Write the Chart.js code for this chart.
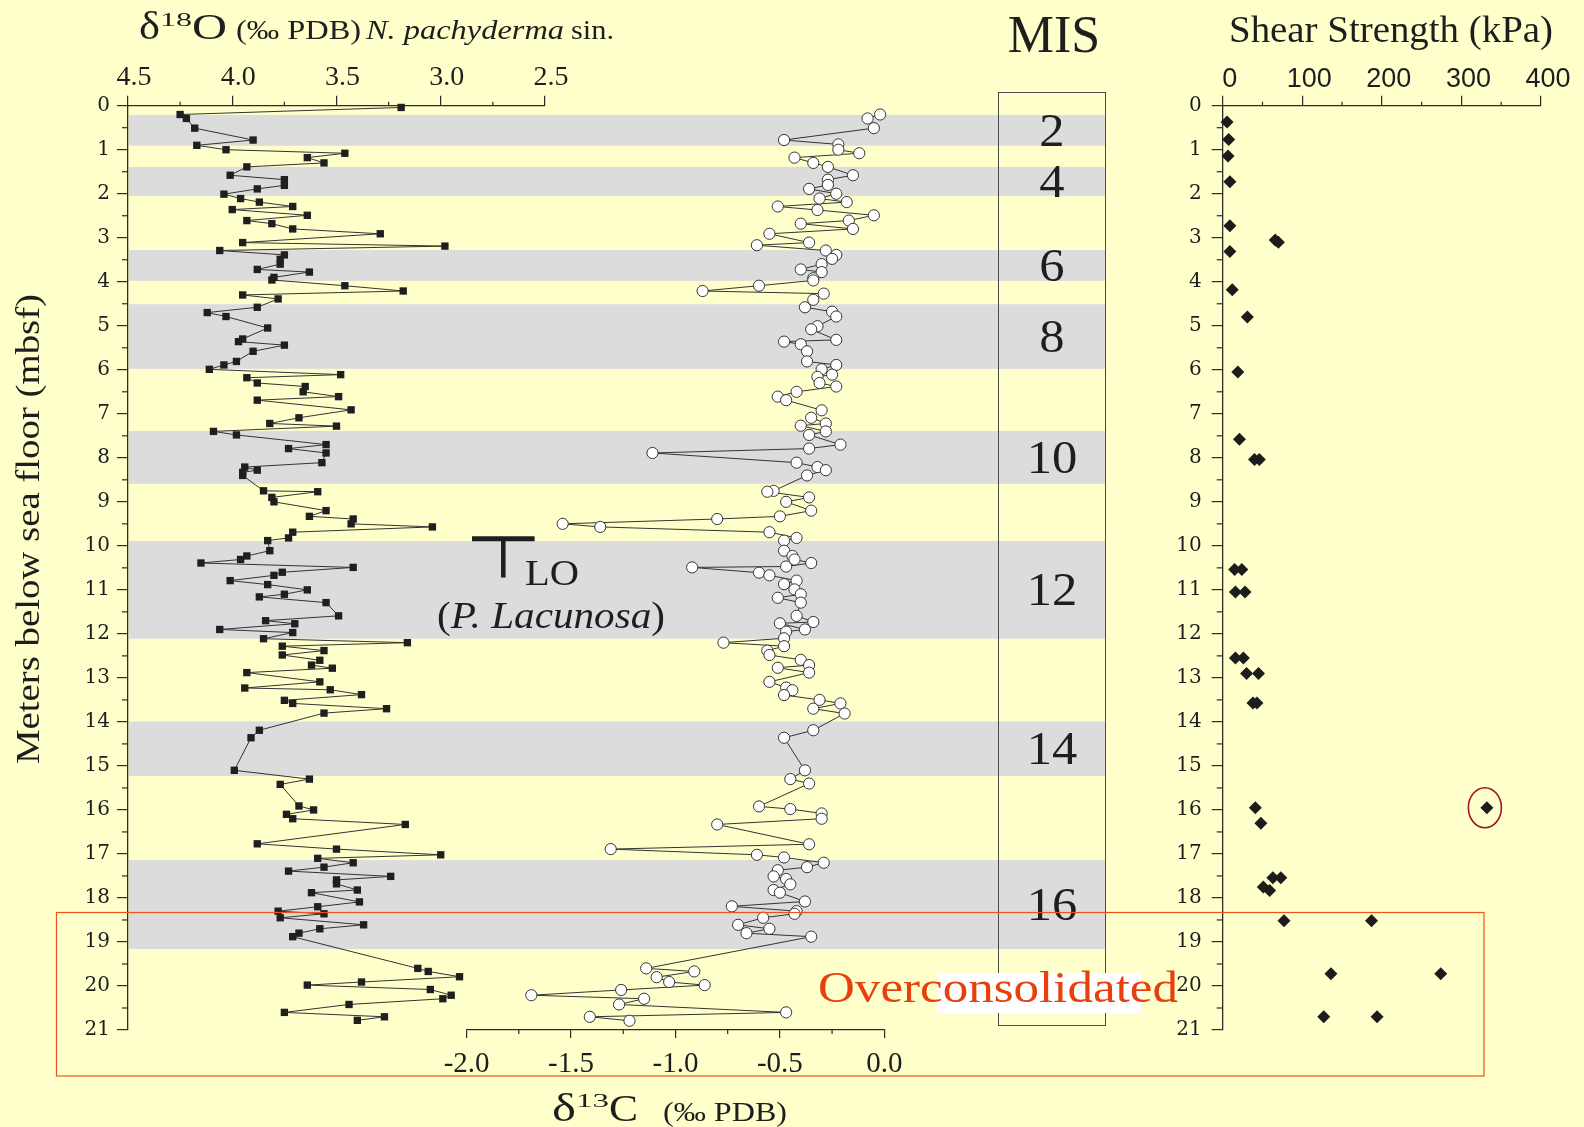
<!DOCTYPE html>
<html>
<head>
<meta charset="utf-8">
<title>Isotopes and shear strength</title>
<script src="https://cdn.jsdelivr.net/npm/chart.js@4.4.1/dist/chart.umd.min.js"></script>
<style>
  html, body { margin: 0; padding: 0; background: #ffffcc; }
  #page { position: relative; width: 1584px; height: 1127px; overflow: hidden; }
  #page canvas { position: absolute; left: 0; top: 0; }
</style>
</head>
<body>
<div id="page">
  <canvas id="o18" width="1584" height="1127"></canvas>
  <canvas id="c13" width="1584" height="1127"></canvas>
  <canvas id="shear" width="1584" height="1127"></canvas>
</div>
<script>
const serif = "'Liberation Serif', 'Times New Roman', serif";
const textColor = '#1e1e1e';
const axisColor = '#2b2b2b';
const lineColor = '#333333';

// sample depths (mbsf) and d18O of N. pachyderma sin. (permil PDB)
const depth18 = [
  0.04, 0.20, 0.29, 0.51, 0.78, 0.90, 1.00, 1.08, 1.18, 1.30,
  1.39, 1.58, 1.68, 1.81, 1.89, 2.01, 2.11, 2.19, 2.29, 2.36,
  2.49, 2.61, 2.68, 2.80, 2.91, 3.11, 3.19, 3.29, 3.39, 3.49,
  3.60, 3.72, 3.78, 3.90, 3.96, 4.09, 4.21, 4.30, 4.39, 4.58,
  4.70, 4.79, 5.05, 5.30, 5.36, 5.44, 5.58, 5.81, 5.89, 5.99,
  6.11, 6.18, 6.30, 6.38, 6.50, 6.61, 6.69, 6.91, 7.09, 7.22,
  7.28, 7.40, 7.48, 7.70, 7.79, 7.89, 8.11, 8.21, 8.28, 8.33,
  8.40, 8.75, 8.77, 8.90, 9.00, 9.20, 9.33, 9.39, 9.50, 9.57,
  9.69, 9.82, 9.88, 10.11, 10.23, 10.31, 10.39, 10.49, 10.60, 10.67,
  10.79, 10.88, 11.00, 11.10, 11.16, 11.29, 11.59, 11.70, 11.77, 11.90,
  11.97, 12.11, 12.20, 12.28, 12.38, 12.48, 12.60, 12.71, 12.78, 12.88,
  13.09, 13.23, 13.27, 13.38, 13.51, 13.58, 13.70, 13.80, 14.19, 14.36,
  15.10, 15.30, 15.42, 15.91, 16.00, 16.10, 16.20, 16.33, 16.77, 16.89,
  17.02, 17.10, 17.20, 17.30, 17.39, 17.51, 17.59, 17.68, 17.82, 17.88,
  18.09, 18.20, 18.30, 18.36, 18.45, 18.61, 18.70, 18.80, 18.88, 19.60,
  19.67, 19.79, 19.91, 19.98, 20.08, 20.21, 20.29, 20.42, 20.60, 20.70, 20.78
];
const d18O = [
  3.19, 4.25, 4.22, 4.18, 3.90, 4.17, 4.03, 3.46, 3.64, 3.56,
  3.93, 4.01, 3.75, 3.75, 3.88, 4.04, 3.96, 3.87, 3.71, 4.00,
  3.64, 3.93, 3.81, 3.71, 3.29, 3.95, 2.98, 4.06, 3.75, 3.77,
  3.77, 3.88, 3.63, 3.80, 3.81, 3.46, 3.18, 3.95, 3.78, 3.88,
  4.12, 4.03, 3.83, 3.95, 3.97, 3.75, 3.90, 3.98, 4.04, 4.11,
  3.48, 3.93, 3.88, 3.65, 3.66, 3.49, 3.88, 3.43, 3.68, 3.82,
  3.50, 4.09, 3.98, 3.55, 3.73, 3.55, 3.57, 3.94, 3.88, 3.95,
  3.95, 3.85, 3.59, 3.81, 3.80, 3.55, 3.63, 3.42, 3.43, 3.04,
  3.71, 3.73, 3.83, 3.82, 3.93, 3.96, 4.15, 3.42, 3.76, 3.80,
  4.01, 3.83, 3.64, 3.75, 3.87, 3.55, 3.49, 3.84, 3.70, 4.06,
  3.71, 3.85, 3.16, 3.76, 3.56, 3.76, 3.58, 3.62, 3.52, 3.93,
  3.58, 3.94, 3.53, 3.38, 3.75, 3.71, 3.26, 3.56, 3.87, 3.91,
  3.99, 3.63, 3.77, 3.68, 3.61, 3.74, 3.71, 3.17, 3.88, 3.50,
  3.00, 3.59, 3.42, 3.56, 3.73, 3.24, 3.50, 3.50, 3.40, 3.62,
  3.39, 3.59, 3.78, 3.56, 3.77, 3.37, 3.58, 3.68, 3.71, 3.11,
  3.06, 2.91, 3.38, 3.64, 3.05, 2.95, 2.99, 3.44, 3.75, 3.27, 3.40
];

// sample depths (mbsf) and d13C (permil PDB)
const depth13 = [
  0.20, 0.29, 0.51, 0.78, 0.88, 1.00, 1.08, 1.18, 1.30, 1.39,
  1.58, 1.68, 1.80, 1.89, 2.00, 2.11, 2.19, 2.29, 2.37, 2.49,
  2.61, 2.68, 2.80, 2.91, 3.11, 3.17, 3.29, 3.39, 3.48, 3.60,
  3.72, 3.78, 3.92, 3.97, 4.09, 4.21, 4.27, 4.41, 4.58, 4.68,
  4.79, 5.01, 5.08, 5.32, 5.36, 5.42, 5.58, 5.81, 5.89, 5.99,
  6.11, 6.16, 6.30, 6.38, 6.50, 6.61, 6.69, 6.92, 7.09, 7.22,
  7.27, 7.40, 7.48, 7.70, 7.79, 7.89, 8.11, 8.21, 8.28, 8.40,
  8.75, 8.77, 8.90, 9.00, 9.20, 9.33, 9.39, 9.50, 9.57, 9.69,
  9.82, 9.88, 10.11, 10.23, 10.31, 10.39, 10.47, 10.49, 10.61, 10.67,
  10.79, 10.87, 10.99, 11.10, 11.18, 11.29, 11.59, 11.73, 11.76, 11.90,
  11.95, 12.10, 12.20, 12.28, 12.38, 12.48, 12.59, 12.71, 12.77, 12.88,
  13.09, 13.22, 13.28, 13.39, 13.50, 13.58, 13.70, 13.81, 14.19, 14.36,
  15.10, 15.30, 15.40, 15.92, 15.98, 16.08, 16.20, 16.33, 16.78, 16.89,
  17.02, 17.08, 17.20, 17.30, 17.37, 17.51, 17.57, 17.69, 17.82, 17.88,
  18.08, 18.19, 18.30, 18.36, 18.45, 18.61, 18.70, 18.80, 18.88, 19.60,
  19.67, 19.80, 19.91, 19.98, 20.09, 20.21, 20.29, 20.42, 20.60, 20.70, 20.79
];
const d13C = [
  -0.02, -0.08, -0.05, -0.48, -0.22, -0.22, -0.12, -0.43, -0.34, -0.27,
  -0.15, -0.27, -0.27, -0.36, -0.23, -0.31, -0.18, -0.51, -0.32, -0.05,
  -0.17, -0.40, -0.15, -0.55, -0.36, -0.61, -0.28, -0.23, -0.25, -0.30,
  -0.40, -0.30, -0.34, -0.34, -0.60, -0.87, -0.29, -0.34, -0.38, -0.25,
  -0.23, -0.32, -0.35, -0.23, -0.48, -0.40, -0.37, -0.37, -0.23, -0.30,
  -0.25, -0.32, -0.31, -0.23, -0.42, -0.51, -0.47, -0.30, -0.35, -0.28,
  -0.40, -0.28, -0.36, -0.21, -0.36, -1.11, -0.42, -0.32, -0.28, -0.37,
  -0.53, -0.56, -0.36, -0.47, -0.35, -0.50, -0.80, -1.54, -1.36, -0.55,
  -0.42, -0.48, -0.48, -0.44, -0.43, -0.35, -0.47, -0.92, -0.60, -0.55,
  -0.42, -0.48, -0.43, -0.40, -0.51, -0.40, -0.42, -0.34, -0.50, -0.38,
  -0.47, -0.48, -0.77, -0.48, -0.56, -0.55, -0.40, -0.36, -0.51, -0.36,
  -0.55, -0.47, -0.44, -0.48, -0.31, -0.21, -0.34, -0.19, -0.34, -0.48,
  -0.38, -0.45, -0.36, -0.60, -0.45, -0.30, -0.30, -0.80, -0.36, -1.31,
  -0.61, -0.48, -0.29, -0.37, -0.51, -0.53, -0.47, -0.45, -0.53, -0.50,
  -0.38, -0.73, -0.42, -0.43, -0.58, -0.70, -0.55, -0.66, -0.35, -1.14,
  -0.91, -1.09, -1.03, -0.86, -1.26, -1.69, -1.15, -1.27, -0.47, -1.41, -1.22
];

// shear strength measurements
const shearDepth = [
  0.37, 0.77, 1.14, 1.73, 2.73, 3.05, 3.10, 3.31, 4.18, 4.80,
  6.05, 7.58, 8.04, 8.04, 10.54, 10.54, 11.05, 11.05, 12.55, 12.55,
  12.90, 12.90, 13.57, 13.57, 15.95, 16.30, 17.54, 17.54, 17.75, 17.83,
  18.52, 18.52, 19.72, 19.72, 20.70, 20.70, 15.95
];
const shearKPa = [
  5.5, 7.5, 6.7, 9, 9, 66, 70, 9, 12, 31,
  19, 21, 40, 46, 15, 24, 16, 28, 16, 26,
  30, 45, 38, 43, 41, 48, 63, 73, 51, 59,
  77, 187, 136, 274, 127, 194, 332
];

// marine isotope stages (glacial bands)
const misStage = ['2', '4', '6', '8', '10', '12', '14', '16'];
const bandTop = [0.21, 1.39, 3.28, 4.51, 7.39, 9.89, 13.99, 17.14];
const bandBottom = [0.91, 2.05, 3.98, 5.98, 8.59, 12.11, 15.23, 19.16];

// tick labels
const depthTicks = [0, 1, 2, 3, 4, 5, 6, 7, 8, 9, 10, 11, 12, 13, 14, 15, 16, 17, 18, 19, 20, 21];
const o18Ticks = [4.5, 4.0, 3.5, 3.0, 2.5];
const c13Ticks = [-2.0, -1.5, -1.0, -0.5, 0.0];
const shearTicks = [0, 100, 200, 300, 400];

// last occurrence of P. lacunosa: [top, bottom] depth, [left, right, stem] d18O
const loDepth = [9.84, 10.72];
const loX = [2.85, 2.55, 2.70];


// ---- helpers ----
// axis boxes get a fixed size so the plot areas line up exactly
const fixSize = (size) => (scale) => {
    if (scale.isHorizontal()) scale.height = size;
    else scale.width = size;
};
const setTicks = (values) => (scale) => {
    scale.ticks = values.map(v => ({ value: v }));
};
const axisGrid = (len) => ({
    display: true, drawOnChartArea: false, drawTicks: true,
    tickLength: len, color: axisColor, lineWidth: 1.2,
});
const axisBorder = { display: true, color: axisColor, width: 1.3 };

const depthAxis = (pad, size) => ({
    type: 'linear', position: 'left', min: 0, max: 21, reverse: true,
    afterFit: fixSize(size),
    afterBuildTicks: setTicks(depthTicks),
    grid: axisGrid(11),
    border: axisBorder,
    ticks: {
        font: { family: 'DejaVu Serif', size: 20 }, color: textColor,
        padding: pad, autoSkip: false, callback: v => String(v),
    },
});

function fitText(ctx, str, x, y, font, o = {}) {
    ctx.save();
    ctx.font = font;
    ctx.textAlign = o.align || 'left';
    ctx.textBaseline = 'alphabetic';
    const natural = ctx.measureText(str).width;
    const sx = o.width ? o.width / natural : (o.sx || 1);
    ctx.translate(x, y);
    if (o.rotate) ctx.rotate(o.rotate);
    ctx.scale(sx, 1);
    ctx.fillText(str, 0, 0);
    ctx.restore();
}

// parts laid one after another, squeezed/stretched together to a width
function seqText(ctx, parts, x, y, width) {
    let total = 0;
    parts.forEach(p => { ctx.font = p.font; p.w = ctx.measureText(p.text).width; total += p.w; });
    const sx = width / total;
    let cx = x;
    parts.forEach(p => {
        fitText(ctx, p.text, cx, y, p.font, { sx });
        cx += p.w * sx;
    });
}

const base = {
    responsive: false,
    animation: false,
    devicePixelRatio: 1,
    events: [],
};
const quiet = { legend: { display: false }, tooltip: { enabled: false } };


// ---- plugins ----
const minorTicks = {
    id: 'minorTicks',
    afterDraw(chart, args, opts) {
        const { ctx, chartArea: a } = chart;
        ctx.save();
        ctx.strokeStyle = axisColor;
        ctx.lineWidth = 1.2;
        (opts.axes || []).forEach(ax => {
            const s = chart.scales[ax.id];
            const vals = s.ticks.map(t => t.value);
            for (let i = 0; i < vals.length - 1; i++) {
                const p = s.getPixelForValue((vals[i] + vals[i + 1]) / 2);
                ctx.beginPath();
                if (ax.side === 'top') { ctx.moveTo(p, a.top); ctx.lineTo(p, a.top - ax.len); }
                else if (ax.side === 'bottom') { ctx.moveTo(p, a.bottom); ctx.lineTo(p, a.bottom + ax.len); }
                else { ctx.moveTo(a.left, p); ctx.lineTo(a.left - ax.len, p); }
                ctx.stroke();
            }
        });
        ctx.restore();
    },
};

const bands = {
    id: 'bands',
    beforeDatasetsDraw(chart, args, opts) {
        const { ctx, chartArea: a, scales: { y } } = chart;
        ctx.save();
        ctx.fillStyle = '#dcdcdc';
        bandTop.forEach((t, i) => {
            const y1 = y.getPixelForValue(t);
            const y2 = y.getPixelForValue(bandBottom[i]);
            ctx.fillRect(a.left + 1, y1, opts.right - a.left - 1, y2 - y1);
        });
        ctx.restore();
    },
};

const loMarker = {
    id: 'loMarker',
    afterDatasetsDraw(chart) {
        const { ctx, scales: { x, y } } = chart;
        const yTop = y.getPixelForValue(loDepth[0]);
        const yBot = y.getPixelForValue(loDepth[1]);
        ctx.save();
        ctx.strokeStyle = '#1e1e1e';
        ctx.lineWidth = 5;
        ctx.beginPath();
        ctx.moveTo(x.getPixelForValue(loX[0]), yTop);
        ctx.lineTo(x.getPixelForValue(loX[1]), yTop);
        ctx.stroke();
        ctx.lineWidth = 4.5;
        ctx.beginPath();
        ctx.moveTo(x.getPixelForValue(loX[2]), yTop);
        ctx.lineTo(x.getPixelForValue(loX[2]), yBot);
        ctx.stroke();
        ctx.fillStyle = textColor;
        fitText(ctx, 'LO', 525, 585, '35px ' + serif, { width: 54 });
        seqText(ctx, [
            { text: '(', font: '38px ' + serif },
            { text: 'P. Lacunosa', font: 'italic 38px ' + serif },
            { text: ')', font: '38px ' + serif },
        ], 437, 628, 228);
        ctx.restore();
    },
};

const overlay = {
    id: 'overlay',
    afterDraw(chart) {
        const { ctx, scales: { x, y } } = chart;
        ctx.save();

        // MIS column
        ctx.strokeStyle = '#4a4a4a';
        ctx.lineWidth = 1;
        ctx.strokeRect(998.5, 92.5, 107, 933);
        ctx.fillStyle = textColor;
        fitText(ctx, 'MIS', 1054, 52, '52px ' + serif, { align: 'center' });
        misStage.forEach((s, i) => {
            const c = y.getPixelForValue((bandTop[i] + bandBottom[i]) / 2);
            fitText(ctx, s, 1052, c + 15.5, '46px ' + serif, { align: 'center', sx: 1.1 });
        });

        // overconsolidated interval
        ctx.strokeStyle = '#f0521c';
        ctx.lineWidth = 1.2;
        ctx.strokeRect(56.5, 912.5, 1427.5, 163.5);
        ctx.fillStyle = '#ffffff';
        ctx.fillRect(937, 973, 204, 40);
        ctx.fillStyle = '#e8400c';
        fitText(ctx, 'Overconsolidated', 818, 1002, '45px ' + serif, { width: 360 });

        // circled outlier
        const iMax = shearKPa.indexOf(Math.max(...shearKPa));
        ctx.strokeStyle = '#a0142c';
        ctx.lineWidth = 1.6;
        ctx.beginPath();
        ctx.ellipse(x.getPixelForValue(shearKPa[iMax]) - 2, y.getPixelForValue(shearDepth[iMax]), 16.5, 20, 0, 0, Math.PI * 2);
        ctx.stroke();

        // titles
        ctx.fillStyle = textColor;
        fitText(ctx, 'Shear Strength (kPa)', 1229, 42, '38px ' + serif, { width: 324 });

        [
            { text: 'δ', x: 139, w: 21, font: '40px ' + serif },
            { text: '18', x: 160, w: 32, font: '19px ' + serif, dy: -13 },
            { text: 'O', x: 192, w: 35, font: '35px ' + serif },
            { text: '(‰ PDB)', x: 236, w: 125, font: '27px ' + serif },
            { text: 'N. pachyderma', x: 366, w: 198, font: 'italic 27px ' + serif },
            { text: 'sin.', x: 571, w: 43, font: '27px ' + serif },
        ].forEach(p => fitText(ctx, p.text, p.x, 39 + (p.dy || 0), p.font, { width: p.w }));

        [
            { text: 'δ', x: 552, w: 24, font: '40px ' + serif },
            { text: '13', x: 576, w: 33, font: '19px ' + serif, dy: -14 },
            { text: 'C', x: 609, w: 29, font: '37px ' + serif },
            { text: '(‰ PDB)', x: 663, w: 124, font: '27px ' + serif },
        ].forEach(p => fitText(ctx, p.text, p.x, 1121 + (p.dy || 0), p.font, { width: p.w }));

        fitText(ctx, 'Meters below sea floor (mbsf)', 39, 529, '33px ' + serif,
            { align: 'center', rotate: -Math.PI / 2, width: 470 });

        ctx.restore();
    },
};


// ---- d18O panel (with depth axis and MIS bands) ----
new Chart(document.getElementById('o18'), {
    type: 'scatter',
    data: {
        datasets: [{
            data: depth18.map((d, i) => ({ x: d18O[i], y: d })),
            showLine: true,
            borderColor: lineColor,
            borderWidth: 1,
            pointStyle: 'rect',
            pointRadius: 5.2,
            pointBackgroundColor: '#1f1f1f',
            pointBorderColor: '#1f1f1f',
            pointBorderWidth: 0,
            clip: false,
        }],
    },
    options: {
        ...base,
        layout: { padding: { left: 0, top: 0, right: 1584 - 545, bottom: 1127 - 1030 } },
        plugins: {
            ...quiet,
            bands: { right: 1106 },
            minorTicks: { axes: [{ id: 'x', side: 'top', len: 4 }, { id: 'y', side: 'left', len: 6 }] },
        },
        scales: {
            x: {
                type: 'linear', position: 'top', min: 2.5, max: 4.5, reverse: true,
                afterFit: fixSize(105.7),
                afterBuildTicks: setTicks(o18Ticks),
                grid: axisGrid(10),
                border: axisBorder,
                ticks: {
                    font: { family: serif, size: 28 }, color: textColor,
                    padding: 1, labelOffset: 6, maxRotation: 0, autoSkip: false,
                    callback: v => v.toFixed(1),
                },
            },
            y: depthAxis(7, 128),
        },
    },
    plugins: [bands, minorTicks, loMarker],
});

// ---- d13C panel ----
new Chart(document.getElementById('c13'), {
    type: 'scatter',
    data: {
        datasets: [{
            data: depth13.map((d, i) => ({ x: d13C[i], y: d })),
            showLine: true,
            borderColor: lineColor,
            borderWidth: 1,
            pointStyle: 'circle',
            pointRadius: 5.6,
            pointBackgroundColor: '#ffffff',
            pointBorderColor: '#333333',
            pointBorderWidth: 1,
            clip: false,
        }],
    },
    options: {
        ...base,
        layout: { padding: { left: 466.6, top: 105.7, right: 1584 - 884.3, bottom: 0 } },
        plugins: {
            ...quiet,
            minorTicks: { axes: [{ id: 'x', side: 'bottom', len: 4 }] },
        },
        scales: {
            x: {
                type: 'linear', position: 'bottom', min: -2, max: 0,
                afterFit: fixSize(1127 - 1030),
                afterBuildTicks: setTicks(c13Ticks),
                grid: axisGrid(8),
                border: axisBorder,
                ticks: {
                    font: { family: serif, size: 29 }, color: textColor,
                    padding: 9, maxRotation: 0, autoSkip: false,
                    callback: v => v.toFixed(1),
                },
            },
            y: { type: 'linear', display: false, min: 0, max: 21, reverse: true },
        },
    },
    plugins: [minorTicks],
});

// ---- shear strength panel (also carries the page annotations) ----
new Chart(document.getElementById('shear'), {
    type: 'scatter',
    data: {
        datasets: [{
            data: shearDepth.map((d, i) => ({ x: shearKPa[i], y: d })),
            pointStyle: 'rectRot',
            pointRadius: 6.5,
            pointBackgroundColor: '#1c1c1c',
            pointBorderColor: '#1c1c1c',
            pointBorderWidth: 0,
            clip: false,
        }],
    },
    options: {
        ...base,
        layout: { padding: { left: 1222.7 - 70, top: 0, right: 1584 - 1541, bottom: 1127 - 1030 } },
        plugins: {
            ...quiet,
            minorTicks: { axes: [{ id: 'x', side: 'top', len: 4 }, { id: 'y', side: 'left', len: 6 }] },
        },
        scales: {
            x: {
                type: 'linear', position: 'top', min: 0, max: 400,
                afterFit: fixSize(105.7),
                afterBuildTicks: setTicks(shearTicks),
                grid: axisGrid(10),
                border: axisBorder,
                ticks: {
                    font: { family: "'Liberation Sans', Arial, sans-serif", size: 27 }, color: textColor,
                    padding: 0, labelOffset: 7, maxRotation: 0, autoSkip: false,
                    callback: v => String(v),
                },
            },
            y: depthAxis(10, 70),
        },
    },
    plugins: [minorTicks, overlay],
});
</script>
</body>
</html>
